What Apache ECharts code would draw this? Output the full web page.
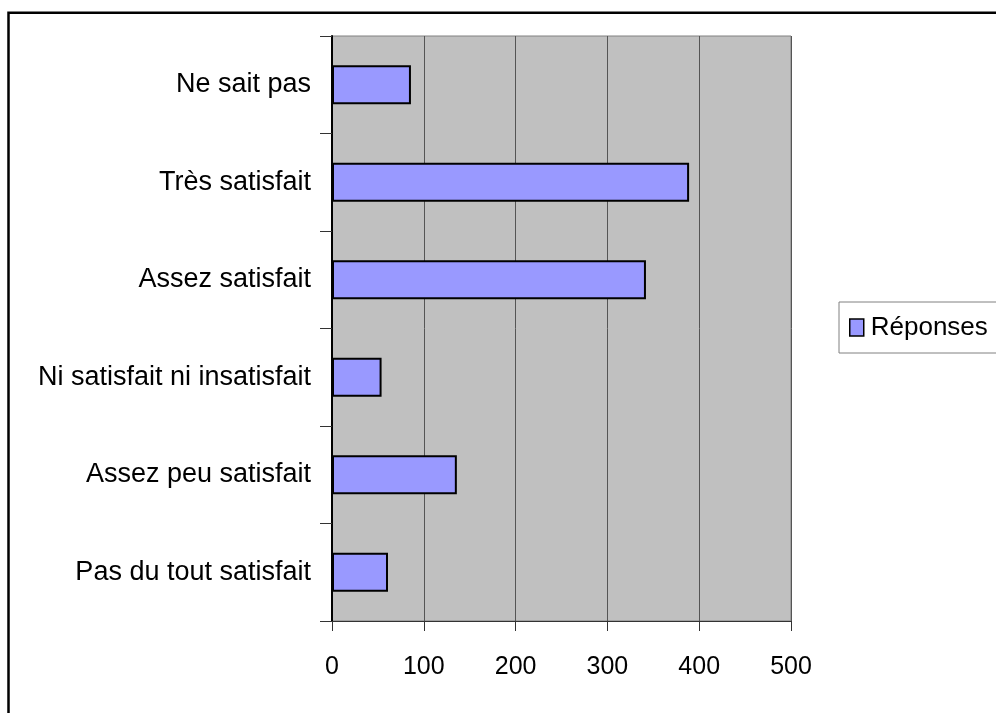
<!DOCTYPE html>
<html>
<head>
<meta charset="utf-8">
<script src="https://cdn.jsdelivr.net/npm/echarts@6/dist/echarts.min.js"></script>
<style>
  html, body { margin: 0; padding: 0; background: #fff; }
  #chart { width: 996px; height: 713px; }
</style>
</head>
<body>
<div id="chart"></div>
<script>
// Satisfaction categories, listed bottom to top as the category axis stacks them
const categories = [
  'Pas du tout satisfait',
  'Assez peu satisfait',
  'Ni satisfait ni insatisfait',
  'Assez satisfait',
  'Très satisfait',
  'Ne sait pas'
];
// Number of answers per category
const responses = [61, 136, 54, 342, 389, 86];
const seriesName = 'Réponses';
const xTicks = [0, 100, 200, 300, 400, 500];

const FONT = "'Liberation Sans', Arial, sans-serif";
const chart = echarts.init(document.getElementById('chart'), null, { renderer: 'canvas' });

chart.setOption({
  backgroundColor: '#ffffff',
  animation: false,
  textStyle: { fontFamily: FONT },
  graphic: [{
    type: 'rect',
    shape: { x: 8.5, y: 12.7, width: 1100, height: 800 },
    style: { fill: 'none', stroke: '#000', lineWidth: 2.5 },
    silent: true,
    z: 100
  }],
  grid: {
    left: 332, top: 36, right: 205, bottom: 92,
    outerBoundsMode: 'none',
    containLabel: false,
    show: true,
    backgroundColor: '#c0c0c0',
    borderColor: '#808080',
    borderWidth: 1
  },
  legend: {
    show: true,
    left: 839, top: 302,
    orient: 'vertical',
    data: [seriesName],
    icon: 'rect',
    itemWidth: 14, itemHeight: 17,
    itemGap: 0,
    padding: [8, 12, 8, 10],
    borderColor: '#808080',
    borderWidth: 1,
    backgroundColor: '#fff',
    itemStyle: { borderColor: '#000', borderWidth: 1.5 },
    textStyle: { fontFamily: FONT, fontSize: 26, color: '#000', lineHeight: 35, padding: [0, 0, 0, 2] }
  },
  xAxis: {
    type: 'value',
    min: xTicks[0],
    max: xTicks[xTicks.length - 1],
    interval: xTicks[1] - xTicks[0],
    axisLine: { show: true, lineStyle: { color: '#333', width: 1 } },
    axisTick: { show: true, length: 10, lineStyle: { color: '#333' } },
    axisLabel: { fontFamily: FONT, fontSize: 25, color: '#000', margin: 34 },
    splitLine: { show: true, lineStyle: { color: '#555', width: 1 } }
  },
  yAxis: {
    type: 'category',
    data: categories,
    axisLine: { show: true, lineStyle: { color: '#000', width: 2 } },
    axisTick: { show: true, length: 12, lineStyle: { color: '#333' } },
    axisLabel: { fontFamily: FONT, fontSize: 27, color: '#000', margin: 21 }
  },
  series: [{
    name: seriesName,
    type: 'bar',
    data: responses,
    barCategoryGap: '60%',
    itemStyle: { color: '#9999ff', borderColor: '#000', borderWidth: 2 }
  }]
});
</script>
</body>
</html>
